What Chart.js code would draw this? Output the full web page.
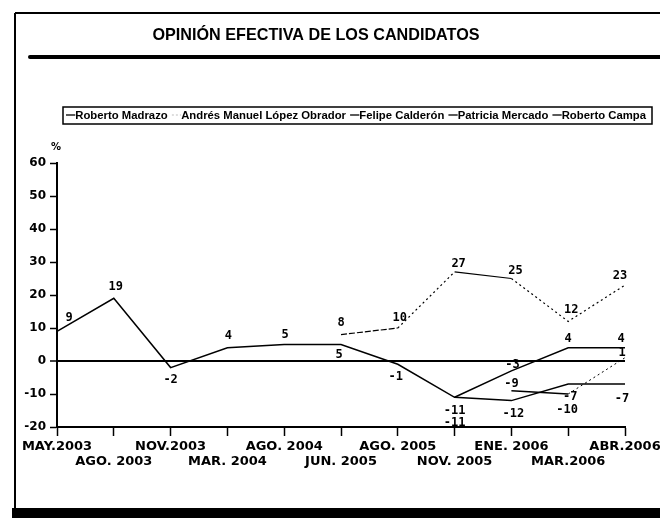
<!DOCTYPE html>
<html><head><meta charset="utf-8">
<script src="https://cdn.jsdelivr.net/npm/chart.js@4/dist/chart.umd.min.js"></script>
<style>html,body{margin:0;padding:0;background:#fff;}canvas{display:block}</style>
</head><body>
<canvas id="c" width="660" height="518"></canvas>
<script>
// ---- data ----
const chartTitle = 'OPINIÓN EFECTIVA DE LOS CANDIDATOS';
const unitLabel = '%';
const categories = ['MAY.2003','AGO. 2003','NOV.2003','MAR. 2004','AGO. 2004','JUN. 2005','AGO. 2005','NOV. 2005','ENE. 2006','MAR.2006','ABR.2006'];
const seriesNames = ['Roberto Madrazo','Andrés Manuel López Obrador','Felipe Calderón','Patricia Mercado','Roberto Campa'];
const madrazo      = [9, 19, -2, 4, 5, 5, -1, -11, -12, -7, -7];
const lopezObrador = [null, null, null, null, null, 8, 10, 27, 25, 12, 23];
const calderon     = [null, null, null, null, null, null, null, -11, -3, 4, 4];
const mercado      = [null, null, null, null, null, null, null, null, -9, -10, 1];
const campa        = [null, null, null, null, null, null, null, null, null, null, null];
const yTicks = [60, 50, 40, 30, 20, 10, 0, -10, -20];

// ---- label placement (style only): [dx, dy] per series / category ----
const labelOffsets = [
  {0:[12,-13],1:[2,-11],2:[0,12],3:[1,-12],4:[1,-10],5:[-2,10],6:[-2,13],7:[0,14],8:[2,13],9:[2,13],10:[-3,15]},
  {5:[0,-12],6:[2,-10],7:[4,-8],8:[4,-8],9:[3,-12],10:[-5,-9]},
  {7:[0,26],8:[1,-6],9:[0,-9],10:[-4,-9]},
  {8:[0,-7],9:[-1,16],10:[-3,-5]},
  {}
];

const black = '#000';
function mk(label, data, extra){
  return Object.assign({label, data, borderColor:black, backgroundColor:black, borderWidth:1.5,
    pointRadius:0, pointHoverRadius:0, tension:0, spanGaps:false, clip:false}, extra||{});
}
const datasets = [
  mk(seriesNames[0], madrazo),
  mk(seriesNames[1], lopezObrador, {borderWidth:1.2, borderDash:[2,3],
     segment:{borderDash: c => c.p0DataIndex===5 ? [6,2] : (c.p0DataIndex===7 ? [] : [2,3])}}),
  mk(seriesNames[2], calderon),
  mk(seriesNames[3], mercado, {segment:{borderDash: c => c.p0DataIndex===9 ? [2,3] : undefined, borderWidth: c => c.p0DataIndex===9 ? 1 : 1.5}}),
  mk(seriesNames[4], campa, {borderWidth:1})
];

const decor = {
  id:'decor',
  beforeDraw(chart){
    const ctx = chart.ctx;
    ctx.save();
    ctx.fillStyle = '#fff'; ctx.fillRect(0,0,660,518);
    ctx.strokeStyle = black; ctx.lineWidth = 2;
    ctx.beginPath(); ctx.moveTo(15,13); ctx.lineTo(660,13); ctx.stroke();
    ctx.beginPath(); ctx.moveTo(15,13); ctx.lineTo(15,508); ctx.stroke();
    ctx.fillStyle = black; ctx.fillRect(12,508,648,10);
    // title
    ctx.font = 'bold 17px "Liberation Sans", Arial, sans-serif';
    const tw = ctx.measureText(chartTitle).width, target = 327, sx = target/tw;
    ctx.save(); ctx.translate(316,40); ctx.scale(sx,1);
    ctx.textAlign='center'; ctx.textBaseline='alphabetic'; ctx.fillText(chartTitle,0,0); ctx.restore();
    // thick rule under title
    ctx.lineWidth = 4; ctx.lineCap='round';
    ctx.beginPath(); ctx.moveTo(30,57); ctx.lineTo(662,57); ctx.stroke();
    ctx.lineCap='butt';
    // legend box
    ctx.lineWidth = 1.5;
    ctx.strokeRect(63,107,589,17);
    ctx.font = 'bold 11px "Liberation Sans", Arial, sans-serif';
    const mw = 9, itemGap = 4;
    let natural = 0;
    const widths = chart.data.datasets.map(d => ctx.measureText(d.label).width);
    widths.forEach(w => natural += mw + w);
    natural += itemGap*(widths.length-1);
    const avail = 580, s = avail/natural;
    let x = 66; const y = 115;
    chart.data.datasets.forEach((d,i) => {
      ctx.save();
      ctx.strokeStyle = i===1 ? '#ccc' : black; ctx.lineWidth = 1.3;
      if (i===1) ctx.setLineDash([2,2]);
      ctx.beginPath(); ctx.moveTo(x, y); ctx.lineTo(x+mw*s, y); ctx.stroke();
      ctx.restore();
      x += mw*s;
      ctx.save(); ctx.translate(x, y+4); ctx.scale(s,1);
      ctx.fillStyle = black; ctx.textAlign='left'; ctx.fillText(d.label, 0, 0); ctx.restore();
      x += (widths[i] + itemGap)*s;
    });
    // unit
    ctx.font = 'bold 10px "DejaVu Sans", sans-serif';
    ctx.textAlign='center'; ctx.fillText(unitLabel, 56, 150);
    ctx.restore();
  },
  afterDatasetsDraw(chart){
    const ctx = chart.ctx;
    ctx.save();
    ctx.fillStyle = black;
    ctx.font = 'bold 12px "DejaVu Sans Mono", monospace';
    ctx.textAlign = 'center'; ctx.textBaseline = 'middle';
    chart.data.datasets.forEach((d,i) => {
      const meta = chart.getDatasetMeta(i);
      d.data.forEach((v,j) => {
        if (v === null || v === undefined) return;
        const p = meta.data[j];
        const off = (labelOffsets[i] && labelOffsets[i][j]) || (v >= 0 ? [0,-11] : [0,13]);
        ctx.fillText(String(v), p.x + off[0], p.y + off[1]);
      });
    });
    ctx.restore();
  }
};

new Chart(document.getElementById('c'), {
  type:'line',
  data:{ labels: categories, datasets },
  options:{
    responsive:false, animation:false, devicePixelRatio:1,
    layout:{ padding:{ top:163, right:35, bottom:0, left:0 } },
    plugins:{ legend:{display:false}, title:{display:false}, tooltip:{enabled:false} },
    scales:{
      x:{
        type:'category', offset:false,
        grid:{ display:true, drawOnChartArea:false, drawTicks:true, tickLength:9, tickColor:black, tickWidth:1.5 },
        border:{ display:true, color:black, width:2 },
        ticks:{ autoSkip:false, maxRotation:0, minRotation:0, color:black, padding:3,
          font:{ family:'"DejaVu Sans", sans-serif', weight:'bold', size:13, lineHeight:1.15 },
          callback:(v,i) => i % 2 ? ['', categories[i]] : categories[i] },
        afterFit(s){ s.height = 91; s.paddingLeft = 0; s.paddingRight = 0; }
      },
      y:{
        min:-20, max:60,
        afterBuildTicks(s){ s.ticks = yTicks.map(v => ({value:v})); },
        grid:{ drawOnChartArea:true, drawTicks:true, tickLength:7, tickColor:black, tickWidth:1.5,
          color: c => (c.tick && c.tick.value === 0) ? black : 'rgba(0,0,0,0)',
          lineWidth: c => (c.tick && c.tick.value === 0) ? 2 : 1 },
        border:{ display:true, color:black, width:2 },
        ticks:{ color:black, padding:4, font:{ family:'"DejaVu Sans", sans-serif', weight:'bold', size:12 } },
        afterFit(s){ s.width = 57; s.paddingTop = 0; s.paddingBottom = 0; }
      }
    }
  },
  plugins:[decor]
});
</script>
</body></html>
